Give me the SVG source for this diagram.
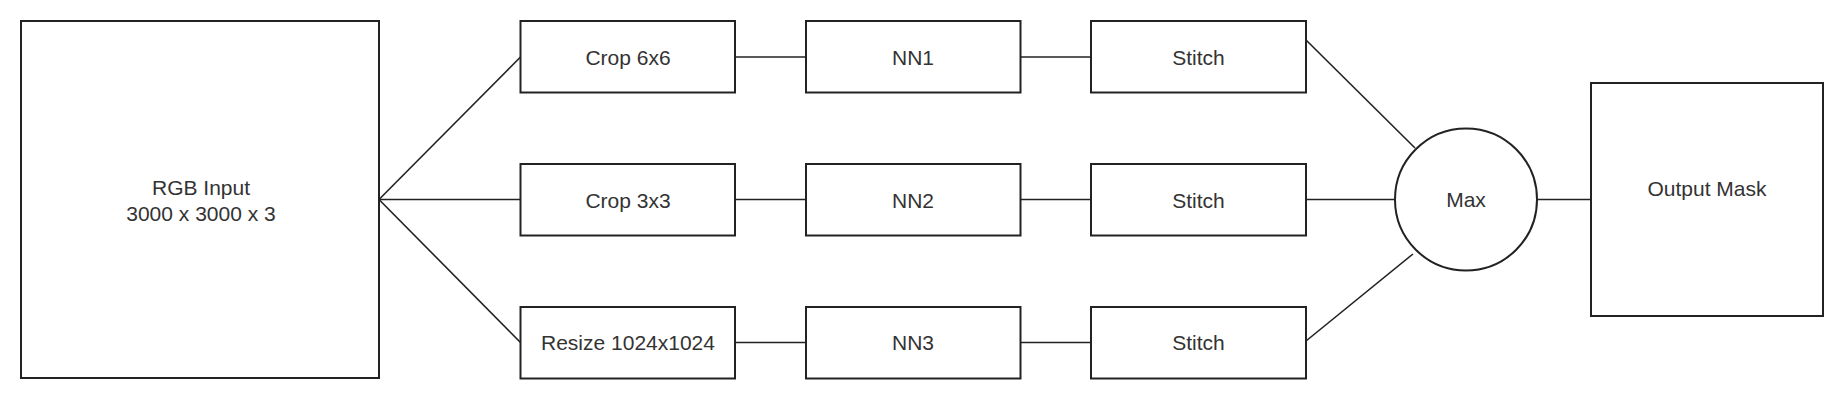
<svg xmlns="http://www.w3.org/2000/svg" width="1838" height="407" viewBox="0 0 1838 407">
<style>
.box{fill:#fff;stroke:#222;stroke-width:2}
.lbl{font-family:"Liberation Sans",Arial,sans-serif;font-size:21px;fill:#333;text-anchor:middle}
.conn{stroke:#222;stroke-width:1.6;fill:none}
</style>
<rect width="1838" height="407" fill="#fff"/>
<g id="connectors">
<line class="conn" x1="379" y1="199.5" x2="520.5" y2="57"/>
<line class="conn" x1="379" y1="199.5" x2="520.5" y2="199.5"/>
<line class="conn" x1="379" y1="199.5" x2="520.5" y2="342.5"/>
<line class="conn" x1="735" y1="57" x2="806" y2="57"/>
<line class="conn" x1="735" y1="199.5" x2="806" y2="199.5"/>
<line class="conn" x1="735" y1="342.5" x2="806" y2="342.5"/>
<line class="conn" x1="1020.5" y1="57" x2="1091" y2="57"/>
<line class="conn" x1="1020.5" y1="199.5" x2="1091" y2="199.5"/>
<line class="conn" x1="1020.5" y1="342.5" x2="1091" y2="342.5"/>
<line class="conn" x1="1306" y1="40" x2="1415" y2="148"/>
<line class="conn" x1="1306" y1="199.5" x2="1395" y2="199.5"/>
<line class="conn" x1="1306" y1="341" x2="1413" y2="254"/>
<line class="conn" x1="1537" y1="199.5" x2="1591" y2="199.5"/>
</g>
<g id="rgb-input">
<rect class="box" x="21" y="21" width="358" height="357"/>
<text class="lbl" x="201" y="195">RGB Input</text>
<text class="lbl" x="201" y="220.5">3000 x 3000 x 3</text>
</g>
<g id="crop6">
<rect class="box" x="520.5" y="21" width="214.5" height="71.5"/>
<text class="lbl" x="628" y="64.5">Crop 6x6</text>
</g>
<g id="crop3">
<rect class="box" x="520.5" y="164" width="214.5" height="71.5"/>
<text class="lbl" x="628" y="207.5">Crop 3x3</text>
</g>
<g id="resize">
<rect class="box" x="520.5" y="307" width="214.5" height="71.5"/>
<text class="lbl" x="628" y="350">Resize 1024x1024</text>
</g>
<g id="nn1">
<rect class="box" x="806" y="21" width="214.5" height="71.5"/>
<text class="lbl" x="913" y="64.5">NN1</text>
</g>
<g id="nn2">
<rect class="box" x="806" y="164" width="214.5" height="71.5"/>
<text class="lbl" x="913" y="207.5">NN2</text>
</g>
<g id="nn3">
<rect class="box" x="806" y="307" width="214.5" height="71.5"/>
<text class="lbl" x="913" y="350">NN3</text>
</g>
<g id="stitch1">
<rect class="box" x="1091" y="21" width="215" height="71.5"/>
<text class="lbl" x="1198.5" y="64.5">Stitch</text>
</g>
<g id="stitch2">
<rect class="box" x="1091" y="164" width="215" height="71.5"/>
<text class="lbl" x="1198.5" y="207.5">Stitch</text>
</g>
<g id="stitch3">
<rect class="box" x="1091" y="307" width="215" height="71.5"/>
<text class="lbl" x="1198.5" y="350">Stitch</text>
</g>
<g id="max">
<circle class="box" cx="1466" cy="199.5" r="71"/>
<text class="lbl" x="1466" y="207">Max</text>
</g>
<g id="output-mask">
<rect class="box" x="1591" y="83" width="232" height="233"/>
<text class="lbl" x="1707" y="196">Output Mask</text>
</g>
</svg>
